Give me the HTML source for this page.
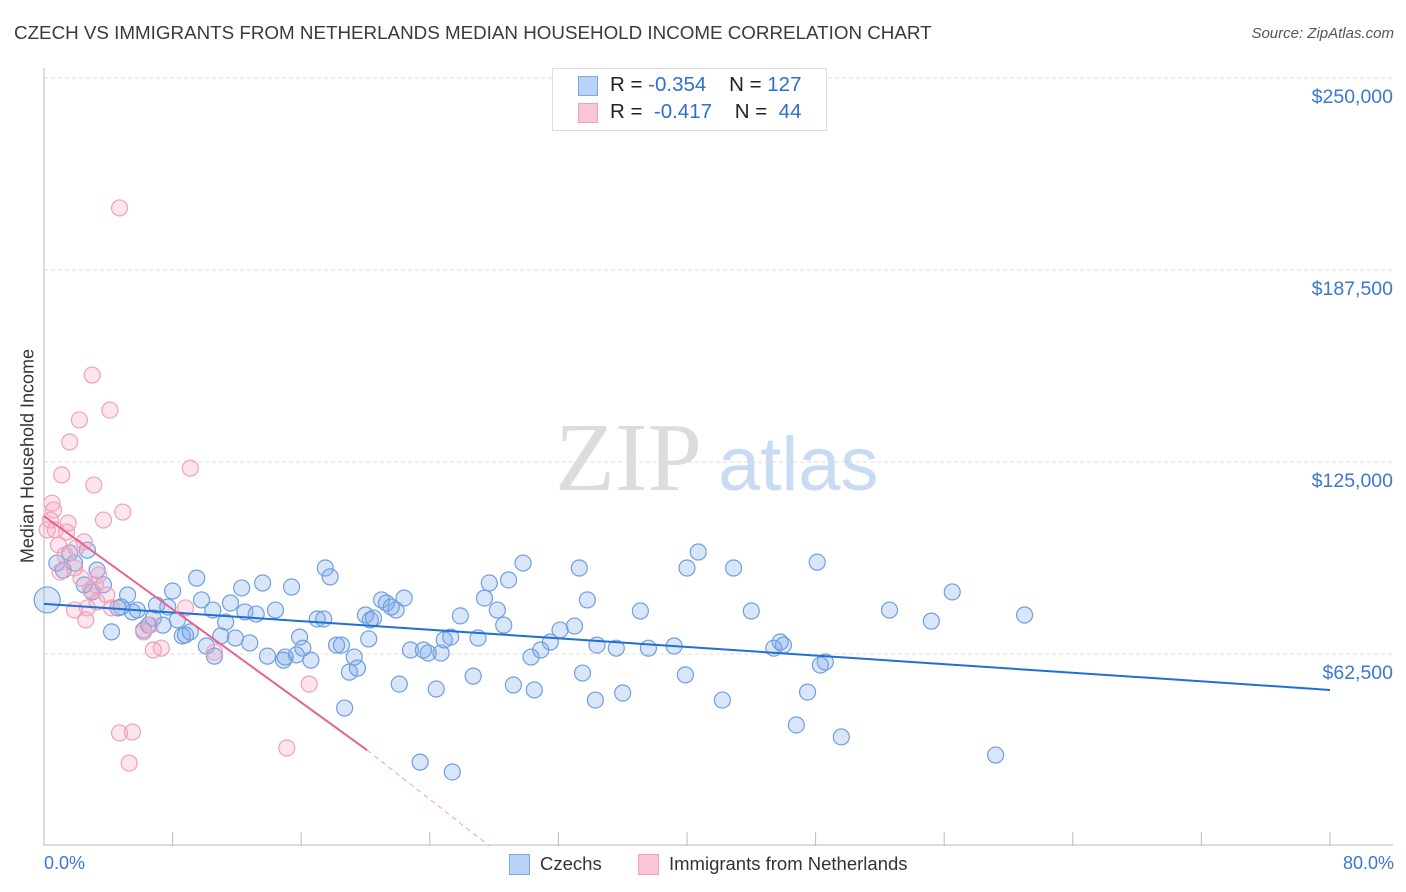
<!DOCTYPE html>
<html><head><meta charset="utf-8"><style>
body{margin:0;background:#fff;font-family:"Liberation Sans",sans-serif;}
#wrap{position:relative;width:1406px;height:892px;overflow:hidden;}
.t{position:absolute;white-space:nowrap;}
</style></head><body>
<div id="wrap">
<div class="t" style="left:14px;top:22px;font-size:18.8px;color:#3a3a3a;">CZECH VS IMMIGRANTS FROM NETHERLANDS MEDIAN HOUSEHOLD INCOME CORRELATION CHART</div>
<div class="t" style="right:12px;top:25px;font-size:15px;color:#555;font-style:italic;">Source: ZipAtlas.com</div>
<div class="t" style="left:28px;top:456px;font-size:18px;color:#333;transform:translate(-50%,-50%) rotate(-90deg);">Median Household Income</div>
<svg id="svg" width="1406" height="892" style="position:absolute;left:0;top:0"></svg>
<div style="position:absolute;left:552px;top:68px;width:273px;height:61px;border:1px solid #ddd;background:#fff;"></div>
<div style="position:absolute;left:578px;top:76px;width:18px;height:18px;background:#b8d3f5;border:1px solid #7fa8e0;"></div>
<div style="position:absolute;left:578px;top:103px;width:18px;height:18px;background:#f9c6d5;border:1px solid #f0a0bc;"></div>
<div class="t" style="left:610px;top:73px;font-size:20.5px;color:#222;">R = <span style="color:#2f6ed1">-0.354</span>&nbsp;&nbsp;&nbsp; N = <span style="color:#2f6ed1">127</span></div>
<div class="t" style="left:610px;top:100px;font-size:20.5px;color:#222;">R = &nbsp;<span style="color:#2f6ed1">-0.417</span>&nbsp;&nbsp;&nbsp; N = &nbsp;<span style="color:#2f6ed1">44</span></div>
<div class="t" style="left:44px;top:853px;font-size:18px;color:#3b78d0;">0.0%</div>
<div class="t" style="right:12px;top:853px;font-size:18px;color:#3b78d0;">80.0%</div>
<div style="position:absolute;left:509px;top:854px;width:19px;height:19px;background:#b8d3f5;border:1px solid #7fa8e0;"></div>
<div class="t" style="left:540px;top:853px;font-size:18.5px;color:#333;">Czechs</div>
<div style="position:absolute;left:638px;top:854px;width:19px;height:19px;background:#f9c6d5;border:1px solid #f0a0bc;"></div>
<div class="t" style="left:669px;top:853px;font-size:18.5px;color:#333;">Immigrants from Netherlands</div>
</div>
<script>
const yTicks=[62500,125000,187500,250000];
const yTickLabels=["$62,500","$125,000","$187,500","$250,000"];
const czX=[0.2,0.8,1.2,1.6,1.9,2.5,2.7,3.0,3.3,3.7,4.2,4.6,4.8,5.2,5.5,5.8,6.2,6.5,6.8,7.0,7.4,7.7,8.0,8.3,8.6,8.8,9.1,9.5,9.8,10.1,10.5,10.6,11.0,11.3,11.6,11.9,12.3,12.5,12.8,13.2,13.6,13.9,14.4,14.9,15.0,15.4,15.7,15.9,16.1,16.6,17.0,17.4,17.5,17.8,18.2,18.5,18.7,19.0,19.3,19.5,20.0,20.2,20.3,20.5,21.0,21.3,21.6,21.9,22.1,22.4,22.8,23.4,23.6,23.9,24.4,24.7,24.9,25.3,25.4,25.9,26.7,27.0,27.4,27.7,28.2,28.6,28.9,29.2,29.8,30.3,30.5,30.9,31.5,32.1,33.0,33.3,33.5,33.8,34.3,34.4,35.6,36.0,37.1,37.6,39.2,39.9,40.0,40.7,42.2,42.9,44.0,45.4,45.8,46.0,46.8,47.5,48.1,48.3,48.6,49.6,52.6,55.2,56.5,59.2,61.0];
const czY=[80.1,92.1,89.8,95.4,92.1,85.0,96.3,82.7,89.8,85.0,69.7,77.5,77.8,81.7,76.2,76.8,70.3,71.9,74.2,78.4,71.9,77.8,83.0,73.6,68.4,68.7,69.7,87.2,80.1,65.1,76.8,61.8,68.4,72.9,79.1,67.7,84.0,76.2,66.1,75.5,85.6,61.8,76.8,60.5,61.5,84.3,62.2,68.0,64.4,60.5,73.9,73.9,90.5,87.6,65.4,65.4,44.9,56.6,61.5,57.9,75.2,67.4,73.6,74.2,80.1,79.1,77.8,76.8,52.7,80.7,63.8,27.3,63.8,62.8,51.1,62.8,67.1,68.0,24.1,74.9,55.3,67.7,80.7,85.6,76.8,71.9,86.6,52.4,92.1,61.5,50.8,63.8,66.4,70.3,71.6,90.5,56.3,80.1,47.5,65.4,64.4,49.8,76.5,64.4,65.1,55.7,90.5,95.7,47.5,90.5,76.5,64.4,66.4,65.4,39.4,50.1,92.4,58.9,59.9,35.5,76.8,73.2,82.7,29.6,75.2];
const nlX=[0.4,0.5,0.6,0.7,1.0,1.1,1.4,1.5,1.6,1.9,2.0,2.2,2.3,2.5,2.6,2.7,3.0,3.1,3.2,3.3,3.7,3.9,4.1,4.2,4.9,4.7,4.7,5.3,5.5,6.2,6.6,6.8,7.3,8.8,9.1,10.6,15.1,16.5,0.2,0.9,2.9,3.4,1.9,1.3];
const nlY=[106.1,111.6,109.4,102.9,89.2,120.8,102.2,105.1,131.5,90.5,97.0,138.7,87.2,99.0,73.6,77.5,153.3,117.5,85.0,79.4,106.1,81.7,141.9,77.5,108.7,207.7,36.8,27.0,37.1,69.7,71.9,63.8,64.4,77.5,123.0,63.1,31.9,52.7,102.9,98.0,83.3,88.2,76.8,94.7];
const czTrend=[[0,78.8],[80,50.8]];
const nlTrend=[[0,107.4],[20.1,31.2]];
const nlTrendDash=[[20.1,31.2],[27.7,0]];

const X0=44,X1=1330,Y0=846,PXK=192/62.5;
const xs=v=>X0+(X1-X0)*v/80;
const ys=v=>Y0-v*PXK;
const svg=document.getElementById('svg');
const NS='http://www.w3.org/2000/svg';
function mk(tag,attrs){const e=document.createElementNS(NS,tag);for(const k in attrs)e.setAttribute(k,attrs[k]);svg.appendChild(e);return e;}
let w=mk('text',{x:555,y:490,'font-size':98,'font-family':'Liberation Serif,serif',fill:'#dcdcdc'});w.textContent='ZIP';


w=mk('text',{x:718,y:490,'font-size':76,'font-family':'Liberation Sans,sans-serif',fill:'#c9dbf2'});w.textContent='atlas';


yTicks.forEach((t,i)=>{
 const y=ys(t/1000);
 const l=mk('line',{x1:44,x2:1393,y1:y,y2:y,stroke:'#ddd','stroke-dasharray':'4,3'});
 
 
 const tx=mk('text',{x:1393,y:y+25,'text-anchor':'end','font-size':19.5,fill:'#3b78d0','font-family':'Liberation Sans,sans-serif'});
 tx.textContent=yTickLabels[i];
 
 
});
let a=mk('line',{x1:44,x2:44,y1:68,y2:846,stroke:'#bbb'});


a=mk('line',{x1:44,x2:1393,y1:845,y2:845,stroke:'#bbb'});


for(let i=0;i<=10;i++){const x=xs(i*8);const t=mk('line',{x1:x,x2:x,y1:832,y2:846,stroke:'#bbb'});
 
 }
czX.forEach((v,i)=>{const c=mk('circle',{cx:xs(v),cy:ys(czY[i]),r:i===0?13:8,fill:'rgba(120,165,235,0.28)',stroke:'#6e9fe0','stroke-width':1.2});
 
 });
nlX.forEach((v,i)=>{const c=mk('circle',{cx:xs(v),cy:ys(nlY[i]),r:8,fill:'rgba(245,160,190,0.28)',stroke:'#f0a0bc','stroke-width':1.2});
 
 });
let tl=mk('line',{x1:xs(czTrend[0][0]),y1:ys(czTrend[0][1]),x2:xs(czTrend[1][0]),y2:ys(czTrend[1][1]),stroke:'#1f6fd6','stroke-width':2});


tl=mk('line',{x1:xs(nlTrend[0][0]),y1:ys(nlTrend[0][1]),x2:xs(nlTrend[1][0]),y2:ys(nlTrend[1][1]),stroke:'#e8628f','stroke-width':2});


tl=mk('line',{x1:xs(nlTrendDash[0][0]),y1:ys(nlTrendDash[0][1]),x2:xs(nlTrendDash[1][0]),y2:ys(nlTrendDash[1][1]),stroke:'#f0a0bc','stroke-width':1,'stroke-dasharray':'5,4'});


</script>
</body></html>
